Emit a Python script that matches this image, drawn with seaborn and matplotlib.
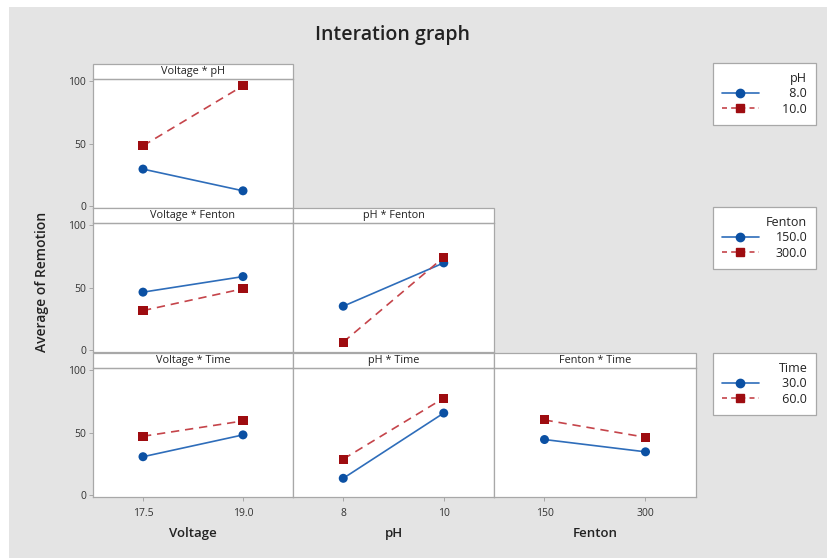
import pandas as pd
import matplotlib.pyplot as plt
import seaborn as sns
from matplotlib.patches import Rectangle
from matplotlib.lines import Line2D

sns.set_style("white")
plt.rcParams['font.family'] = ['Open Sans', 'DejaVu Sans']

# ----------------------------------------
# DATA
# ----------------------------------------
voltage_levels = ["17.5", "19.0"]
ph_levels = ["8", "10"]
fenton_levels = ["150", "300"]

ph_legend = ["8.0", "10.0"]
fenton_legend = ["150.0", "300.0"]
time_legend = ["30.0", "60.0"]

# Voltage * pH
vp_ph8 = [29.8, 12.5]
vp_ph10 = [48.4, 96.2]
# Voltage * Fenton
vf_f150 = [46.5, 58.9]
vf_f300 = [31.8, 49.2]
# pH * Fenton
pf_f150 = [35.3, 69.8]
pf_f300 = [6.7, 74.3]
# Voltage * Time
vt_t30 = [30.9, 48.3]
vt_t60 = [47.2, 59.4]
# pH * Time
pt_t30 = [13.7, 65.7]
pt_t60 = [29.0, 77.6]
# Fenton * Time
ft_t30 = [44.6, 34.8]
ft_t60 = [60.2, 46.4]

# ----------------------------------------
# STYLE
# ----------------------------------------
LINE_COLS = ["#2e6dba", "#c5444a"]
MARK_COLS = ["#0b50a3", "#9e0c10"]
BG = "#e4e4e4"
EDGE = "#a8a8a8"
TXT = "#222222"
W, H = 828, 558


def frame(series_a, series_b, levels):
    rows = []
    for lvl, vals in zip(levels, [series_a, series_b]):
        for i, v in enumerate(vals):
            rows.append({"x": i, "y": v, "level": lvl})
    return pd.DataFrame(rows)


fig = plt.figure(figsize=(W / 100, H / 100), dpi=100)
fig.patch.set_facecolor("white")
fig.add_artist(Rectangle((9 / W, 0), 1 - 9 / W, 1 - 7 / H,
                         transform=fig.transFigure, facecolor=BG,
                         edgecolor="none", zorder=-10))

col_left = [93, 293, 494]
col_w = [200, 201, 202]
row_top = [79, 223, 368]
plot_h = 129
strip_h = 15

panels = [
    # (row, col, title, a, b, legend labels, x levels)
    (0, 0, "Voltage * pH", vp_ph8, vp_ph10, ph_legend, voltage_levels),
    (1, 0, "Voltage * Fenton", vf_f150, vf_f300, fenton_legend, voltage_levels),
    (1, 1, "pH * Fenton", pf_f150, pf_f300, fenton_legend, ph_levels),
    (2, 0, "Voltage * Time", vt_t30, vt_t60, time_legend, voltage_levels),
    (2, 1, "pH * Time", pt_t30, pt_t60, time_legend, ph_levels),
    (2, 2, "Fenton * Time", ft_t30, ft_t60, time_legend, fenton_levels),
]
xlabels = ["Voltage", "pH", "Fenton"]

for r, c, title, a, b, labs, xlev in panels:
    ax = fig.add_axes([col_left[c] / W, 1 - (row_top[r] + plot_h) / H,
                       col_w[c] / W, plot_h / H])
    df = frame(a, b, labs)
    pal = dict(zip(labs, LINE_COLS))
    mpal = dict(zip(labs, MARK_COLS))
    sns.lineplot(data=df, x="x", y="y", hue="level", style="level",
                 palette=pal, dashes={labs[0]: "", labs[1]: (5, 3.5)},
                 linewidth=1.2, legend=False, ax=ax)
    sns.scatterplot(data=df, x="x", y="y", hue="level", style="level",
                    palette=mpal, markers={labs[0]: "o", labs[1]: "s"},
                    s=42, edgecolor="none", legend=False, zorder=3, ax=ax)
    ax.set_xlim(-0.5, 1.5)
    ax.set_ylim(-1.2, 101.6)
    ax.set_facecolor("white")
    for sp in ax.spines.values():
        sp.set_color(EDGE)
        sp.set_linewidth(0.9)
    ax.set_xlabel("")
    ax.set_ylabel("")
    ax.set_xticks([0, 1])
    ax.set_yticks([0, 50, 100])
    ax.tick_params(colors="#333333", labelsize=7.5, length=3, width=0.7,
                   pad=2)
    ax.tick_params(axis="both", color=EDGE)
    if c == 0:
        ax.tick_params(axis="y", left=True)
    else:
        ax.tick_params(axis="y", left=False, labelleft=False)
    if r == 2:
        ax.set_xticklabels(xlev)
        ax.tick_params(axis="x", bottom=True, pad=5)
        ax.set_xlabel(xlabels[c], fontsize=9.5, fontweight="semibold",
                      color=TXT, labelpad=6)
    else:
        ax.tick_params(axis="x", bottom=False, labelbottom=False)
    # strip with the interaction name
    ax.add_patch(Rectangle((0, 1), 1, strip_h / plot_h,
                           transform=ax.transAxes, facecolor="white",
                           edgecolor=EDGE, linewidth=0.9, clip_on=False))
    ax.text(0.5, 1 + strip_h / plot_h / 2, title, transform=ax.transAxes,
            ha="center", va="center", fontsize=7.8, color=TXT)

# ----------------------------------------
# TITLE / Y LABEL
# ----------------------------------------
fig.text(393 / W, 1 - 35 / H, "Interation graph", ha="center", va="center",
         fontsize=14, fontweight="semibold", color=TXT)
fig.text(42 / W, 1 - 282 / H, "Average of Remotion", ha="center",
         va="center", rotation=90, fontsize=10, fontweight="semibold",
         color=TXT)

# ----------------------------------------
# LEGENDS
# ----------------------------------------
legend_specs = [("pH", ph_legend, 63), ("Fenton", fenton_legend, 207),
                ("Time", time_legend, 353)]
for name, labs, top in legend_specs:
    handles = [
        Line2D([0], [0], color=LINE_COLS[0], lw=1.2, marker="o", ms=6,
               markerfacecolor=MARK_COLS[0], markeredgecolor=MARK_COLS[0]),
        Line2D([0], [0], color=LINE_COLS[1], lw=1.2, ls=(0, (3, 2.5)),
               marker="s", ms=5.5, markerfacecolor=MARK_COLS[1],
               markeredgecolor=MARK_COLS[1]),
    ]
    shown = ["\u2007" * (5 - len(l)) + l for l in labs]
    leg = fig.legend(handles, shown, title=name, loc="upper left",
                     bbox_to_anchor=(713 / W, 1 - top / H), fontsize=9,
                     title_fontsize=9, frameon=True, fancybox=False,
                     framealpha=1, facecolor="white",
                     handlelength=3.0, handletextpad=1.3, labelspacing=0.2,
                     borderpad=0.7, borderaxespad=0, alignment="right")
    leg.get_frame().set_edgecolor(EDGE)
    leg.get_frame().set_linewidth(0.9)
    for t in leg.get_texts():
        t.set_color(TXT)
    leg.get_title().set_color(TXT)

plt.savefig("out.png", dpi=100)
